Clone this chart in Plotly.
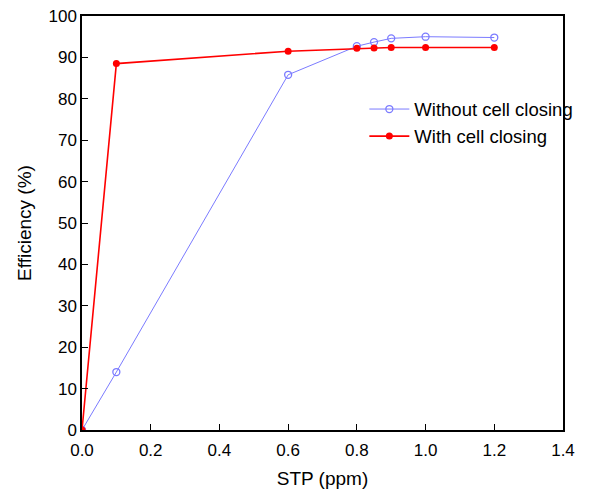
import plotly.graph_objects as go

stp = [0.0, 0.1, 0.6, 0.8, 0.85, 0.9, 1.0, 1.2]
without_closing = [0.0, 14.0, 85.8, 92.7, 93.7, 94.6, 95.0, 94.8]
with_closing = [0.0, 88.5, 91.5, 92.2, 92.3, 92.4, 92.4, 92.4]

FONT = "Liberation Sans, Arial"

fig = go.Figure()
fig.add_trace(go.Scatter(x=stp, y=without_closing, mode="lines+markers",
                         name="Without cell closing",
                         line=dict(color="#7b7bff", width=1),
                         marker=dict(symbol="circle-open", size=7, color="#7b7bff", line=dict(width=1.3))))
fig.add_trace(go.Scatter(x=stp, y=with_closing, mode="lines+markers",
                         name="With cell closing",
                         line=dict(color="#ff0000", width=1.6),
                         marker=dict(symbol="circle", size=7, color="#ff0000")))

axis_common = dict(showline=True, linecolor="black", linewidth=1.5, mirror=True,
                   ticks="inside", ticklen=6, tickcolor="black", showgrid=False,
                   zeroline=False, automargin=False,
                   tickfont=dict(family=FONT, size=17, color="black"))
fig.update_xaxes(range=[0, 1.4], dtick=0.2, tickformat=".1f", ticklabelstandoff=4,
                 title=dict(text="STP (ppm)", font=dict(family=FONT, size=19, color="black"), standoff=13),
                 **axis_common)
fig.update_yaxes(range=[0, 100], dtick=10,
                 title=dict(text="Efficiency (%)", font=dict(family=FONT, size=19, color="black"), standoff=12),
                 **axis_common)

fig.update_layout(width=616, height=496, margin=dict(l=82, r=53, t=16, b=66, autoexpand=False),
                  plot_bgcolor="white", paper_bgcolor="white",
                  legend=dict(x=0.587, y=0.82, xanchor="left", yanchor="top",
                              bgcolor="rgba(0,0,0,0)", font=dict(family=FONT, size=18.5, color="black"),
                              tracegroupgap=0, itemwidth=40))
fig.write_html("out.html")
